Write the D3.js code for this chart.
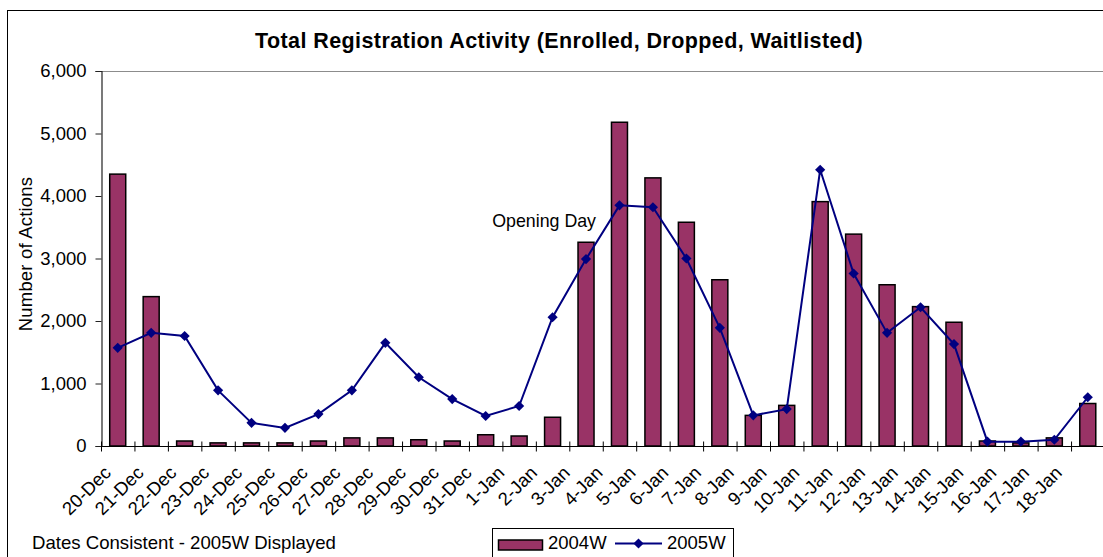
<!DOCTYPE html>
<html>
<head>
<meta charset="utf-8">
<script src="https://cdn.jsdelivr.net/npm/d3@7/dist/d3.min.js"></script>
<style>
  html, body { margin: 0; padding: 0; background: #fff; }
  svg { display: block; }
  text { font-family: "Liberation Sans", Arial, sans-serif; fill: #000; }
</style>
</head>
<body>
<svg id="chart" width="1103" height="557"></svg>
<script>
const categories = ["20-Dec","21-Dec","22-Dec","23-Dec","24-Dec","25-Dec","26-Dec","27-Dec","28-Dec","29-Dec","30-Dec","31-Dec","1-Jan","2-Jan","3-Jan","4-Jan","5-Jan","6-Jan","7-Jan","8-Jan","9-Jan","10-Jan","11-Jan","12-Jan","13-Jan","14-Jan","15-Jan","16-Jan","17-Jan","18-Jan"];
const values2004W = [4350,2390,80,50,50,50,80,130,130,100,80,180,160,460,3260,5180,4290,3580,2660,490,650,3910,3390,2580,2230,1980,80,50,130,680];
const values2005W = [1570,1810,1760,890,370,290,510,890,1650,1100,750,480,640,2060,2990,3850,3820,3000,1890,490,590,4420,2760,1810,2220,1630,70,70,100,780];
const yTicks = [0,1000,2000,3000,4000,5000,6000];
const seriesNames = ["2004W","2005W"];
const titleText = "Total Registration Activity (Enrolled, Dropped, Waitlisted)";
const yAxisTitle = "Number of Actions";
const footnote = "Dates Consistent - 2005W Displayed";
const annotation = {category: "3-Jan", value: 3500, text: "Opening Day"};

const svg = d3.select("#chart");
const barColor = "#993366";
const lineColor = "#000080";

// outer chart border (clipped on right/bottom like reference)
svg.append("rect").attr("x", 7.5).attr("y", 10.5).attr("width", 1110).attr("height", 560)
  .attr("fill", "none").attr("stroke", "#000").attr("stroke-width", 1);

const plot = {left: 101, top: 71, bottom: 446};
const x = d3.scaleBand().domain(categories).range([plot.left, plot.left + 30 * 33.45]).paddingInner(0).paddingOuter(0);
const y = d3.scaleLinear().domain([0, 6000]).range([plot.bottom, plot.top]);
const barW = 16;

// title
svg.append("text").attr("x", 559).attr("y", 48).attr("text-anchor", "middle")
  .style("font-size", "21.5px").style("font-weight", "bold").style("letter-spacing", "0.42px")
  .text(titleText);

// top gridline
svg.append("line").attr("x1", plot.left).attr("x2", 1103).attr("y1", y(6000) + 0.5).attr("y2", y(6000) + 0.5)
  .attr("stroke", "#8c8c8c").attr("stroke-width", 1);

// bars
svg.append("g").selectAll("rect").data(categories).join("rect")
  .attr("x", (d) => x(d) + x.bandwidth() / 2 - barW / 2)
  .attr("width", barW)
  .attr("y", (d, i) => y(values2004W[i]))
  .attr("height", (d, i) => y(0) - y(values2004W[i]))
  .attr("fill", barColor).attr("stroke", "#000").attr("stroke-width", 1.5);

// y axis
const yAxis = d3.axisLeft(y).tickValues(yTicks).tickFormat(d3.format(",")).tickSize(6).tickPadding(9);
const yg = svg.append("g").attr("transform", `translate(${plot.left + 0.5},0)`).call(yAxis);
yg.select(".domain").attr("stroke", "#222").attr("stroke-width", 1.2);
yg.selectAll(".tick line").attr("stroke", "#222");
yg.selectAll(".tick text").style("font-size", "18.5px").style("font-family", "'Liberation Sans', Arial, sans-serif").attr("fill", "#000");

// x axis line + ticks at boundaries
const xg = svg.append("g").attr("transform", `translate(0,${plot.bottom + 0.5})`);
xg.append("line").attr("x1", plot.left).attr("x2", 1103).attr("stroke", "#000").attr("stroke-width", 1.2);
xg.selectAll("line.tk").data(categories).join("line").attr("class", "tk")
  .attr("x1", (d) => x(d) + 0.5).attr("x2", (d) => x(d) + 0.5)
  .attr("y1", -5).attr("y2", 5).attr("stroke", "#000");

// x labels (rotated)
const labelX = d3.scalePoint().domain(categories).range([112, 1063]);
svg.append("g").selectAll("text").data(categories).join("text")
  .attr("transform", (d) => `translate(${labelX(d)},474) rotate(-45)`)
  .attr("text-anchor", "end")
  .style("font-size", "18.5px")
  .text((d) => d);

// line series
const lineGen = d3.line().x((d, i) => x(categories[i]) + x.bandwidth() / 2).y((d) => y(d));
svg.append("path").datum(values2005W).attr("d", lineGen)
  .attr("fill", "none").attr("stroke", lineColor).attr("stroke-width", 2);
const diamond = d3.symbol().type(d3.symbolSquare).size(52);
svg.append("g").selectAll("path").data(values2005W).join("path")
  .attr("d", diamond)
  .attr("transform", (d, i) => `translate(${x(categories[i]) + x.bandwidth() / 2},${y(d)}) rotate(45)`)
  .attr("fill", lineColor);

// y axis title
svg.append("text").attr("transform", `translate(32,254) rotate(-90)`).attr("text-anchor", "middle")
  .style("font-size", "18.5px").style("letter-spacing", "0.2px").text(yAxisTitle);

// annotation
svg.append("text")
  .attr("x", x(annotation.category) + x.bandwidth() / 2 + 10)
  .attr("y", y(annotation.value) - 0.5)
  .attr("text-anchor", "end").style("font-size", "17.8px").text(annotation.text);

// footnote
svg.append("text").attr("x", 32).attr("y", 548.5).style("font-size", "18.6px").text(footnote);

// legend
const lg = svg.append("g");
lg.append("rect").attr("x", 492.5).attr("y", 528.5).attr("width", 241).attr("height", 40)
  .attr("fill", "#fff").attr("stroke", "#000").attr("stroke-width", 1);
lg.append("rect").attr("x", 498.5).attr("y", 540).attr("width", 44).attr("height", 10)
  .attr("fill", barColor).attr("stroke", "#000").attr("stroke-width", 1.5);
lg.append("text").attr("x", 548).attr("y", 548.5).style("font-size", "18.5px").text(seriesNames[0]);
lg.append("line").attr("x1", 615).attr("x2", 662).attr("y1", 543.5).attr("y2", 543.5)
  .attr("stroke", lineColor).attr("stroke-width", 2);
lg.append("path").attr("d", diamond).attr("transform", "translate(638.5,543.5) rotate(45)").attr("fill", lineColor);
lg.append("text").attr("x", 667).attr("y", 548.5).style("font-size", "18.5px").text(seriesNames[1]);
</script>
</body>
</html>
